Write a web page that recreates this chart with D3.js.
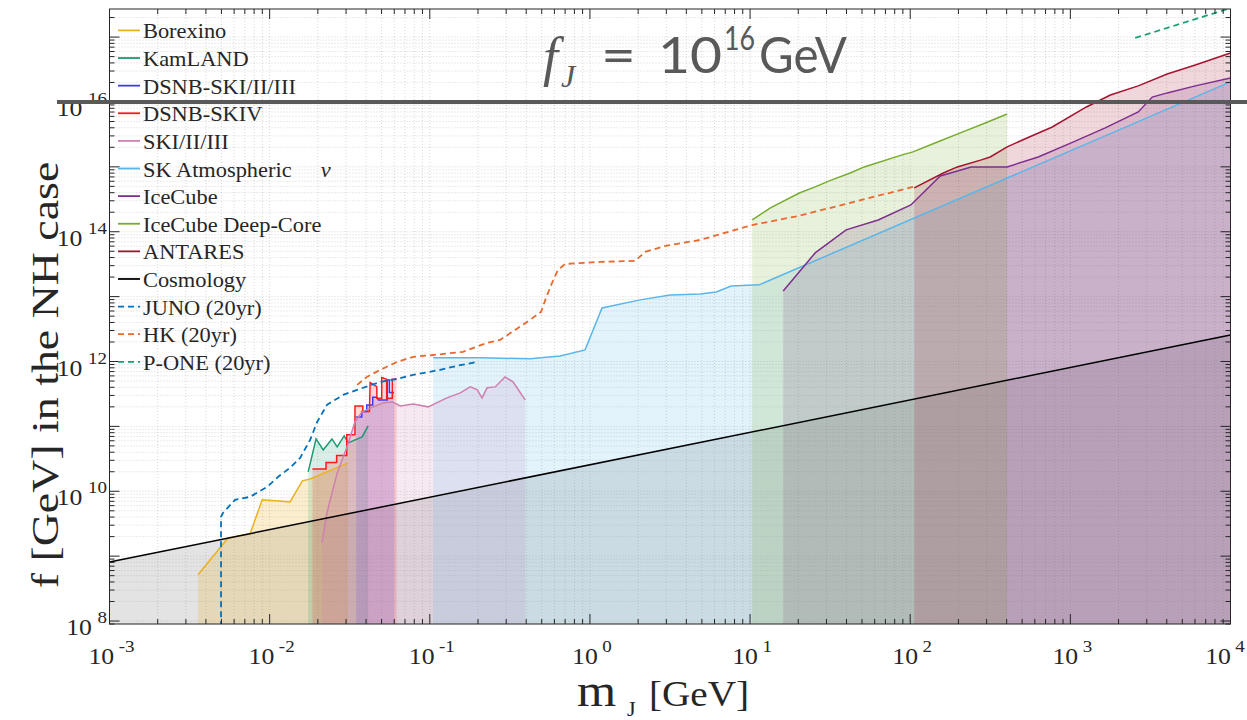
<!DOCTYPE html>
<html>
<head>
<meta charset="utf-8">
<script src="https://cdn.jsdelivr.net/npm/d3@7"></script>
<style>
  body { margin: 0; background: #fff; }
  svg text { font-family: "Liberation Serif", "Times New Roman", serif; fill: #262626; }
</style>
</head>
<body>
<div id="chart"></div>
<script>
// axis limits (GeV)
var xDomain = [1e-3, 1e4];
var yDomain = [9.0e7, 2.71e17];
var fJ = 1e16;

// curves, [m_J (GeV), f (GeV)]
var borexino = [[3.57e-3,5.15e8],[5.5e-3,1.91e9],[7.55e-3,2.21e9],[8.98e-3,7.37e9],[1.34e-2,6.87e9],[1.60e-2,1.45e10],[1.79e-2,1.55e10],[3.09e-2,2.74e10]];
var kamland = [[1.74e-2,1.99e10],[1.95e-2,6.41e10],[2.16e-2,4.34e10],[2.45e-2,6.41e10],[2.64e-2,4.83e10],[2.92e-2,7.14e10],[3.09e-2,5.57e10],[3.78e-2,6.89e10],[4.12e-2,1.02e11]];
var dsnbSK123 = [[3.47e-2,1.39e11],[3.76e-2,1.39e11],[3.76e-2,1.69e11],[4.04e-2,1.69e11],[4.04e-2,2.14e11],[4.4e-2,2.14e11],[4.4e-2,2.82e11],[4.67e-2,2.82e11],[4.78e-2,2.56e11],[5.43e-2,2.56e11],[5.43e-2,5.21e11],[5.6e-2,5.21e11],[5.6e-2,3.32e11],[5.98e-2,3.32e11]];
var dsnbSK4 = [[1.85e-2,2.21e10],[2.25e-2,2.21e10],[2.25e-2,2.77e10],[2.62e-2,2.77e10],[2.62e-2,3.55e10],[3.03e-2,3.55e10],[3.03e-2,7.4e10],[3.41e-2,7.4e10],[3.41e-2,2.07e11],[3.82e-2,2.07e11],[3.82e-2,1.69e11],[4.2e-2,1.69e11],[4.24e-2,4.73e11],[4.67e-2,4.1e11],[4.67e-2,2.72e11],[5.01e-2,2.72e11],[5.01e-2,5.65e11],[5.38e-2,5.34e11],[5.38e-2,2.72e11],[5.83e-2,2.72e11],[5.83e-2,5.34e11],[6.21e-2,5.34e11]];
var skI = [[2.12e-2,1.6e9],[2.28e-2,4.66e9],[2.64e-2,1.92e10],[3.04e-2,4.83e10],[3.41e-2,1.17e11],[3.78e-2,1.67e11],[4.43e-2,2.0e11],[5.11e-2,2.3e11],[5.82e-2,2.39e11],[6.53e-2,2.07e11],[7.87e-2,2.22e11],[9.77e-2,2.0e11],[0.128,2.75e11],[0.155,3.29e11],[0.179,4.06e11],[0.198,3.66e11],[0.212,2.75e11],[0.228,3.93e11],[0.256,4.06e11],[0.295,5.79e11],[0.331,4.85e11],[0.394,2.56e11]];
var skAtm = [[0.105,1.14e12],[0.206,1.14e12],[0.423,1.10e12],[0.651,1.22e12],[0.933,1.51e12],[1.19,6.70e12],[2.06,8.91e12],[3.17,1.06e13],[4.88,1.10e13],[6.14,1.18e13],[7.62,1.46e13],[11.4,1.52e13],[1e4,2.04e16]];
var iceCube = [[16.1,1.22e13],[25.5,4.72e13],[39.8,1.07e14],[63.1,1.52e14],[101,2.59e14],[154,7.24e14],[240,9.98e14],[403,9.98e14],[630,1.42e15],[1012,2.34e15],[1651,3.98e15],[2655,7.02e15],[3245,1.19e16],[4025,1.38e16],[6025,1.77e16],[1e4,2.34e16]];
var deepCore = [[10.3,1.52e14],[13.4,2.33e14],[20.3,3.96e14],[25.5,4.91e14],[31.2,6.07e14],[42.2,8.05e14],[51.6,9.98e14],[89.1,1.53e15],[104,1.7e15],[148,2.42e15],[221,3.58e15],[294,4.75e15],[403,6.53e15]];
var antares = [[106,4.73e14],[161,8.05e14],[197,9.98e14],[278,1.28e15],[316,1.42e15],[403,2.03e15],[554,2.89e15],[771,4.12e15],[1259,8.38e15],[1778,1.28e16],[2655,1.77e16],[4025,2.7e16],[6025,3.72e16],[1e4,5.69e16]];
var cosmology = [[1e-3,8.1e8],[1e4,2.56e12]];
var juno = [[4.97e-3,8.0e7],[4.97e-3,4.04e9],[5.12e-3,4.66e9],[6.08e-3,7.38e9],[7.55e-3,8.2e9],[9.64e-3,1.17e10],[1.13e-2,1.67e10],[1.34e-2,2.3e10],[1.55e-2,3.27e10],[1.79e-2,6.19e10],[1.98e-2,1.17e11],[2.28e-2,2.15e11],[2.88e-2,3.06e11],[3.52e-2,3.66e11],[4.9e-2,4.85e11],[6.25e-2,5.4e11],[7.87e-2,6.22e11],[0.116,7.43e11],[0.148,8.57e11],[0.198,9.86e11]];
var hk = [[3.52e-2,4.37e11],[4.05e-2,5.79e11],[4.9e-2,7.43e11],[6.25e-2,9.86e11],[7.87e-2,1.18e12],[0.105,1.26e12],[0.161,1.41e12],[0.228,1.94e12],[0.275,2.15e12],[0.341,3.07e12],[0.423,4.38e12],[0.495,5.82e12],[0.532,9.55e12],[0.58,1.63e13],[0.632,2.58e13],[0.70,3.19e13],[1.16,3.43e13],[1.92,3.55e13],[2.21,4.89e13],[2.95,6.05e13],[4.88,7.48e13],[10.3,1.27e14],[20.0,1.75e14],[39.8,2.69e14],[104,4.91e14]];
var pOne = [[2540,9.69e16],[1e4,2.8e17]];

var series = [
  {name: "Borexino", data: borexino, color: "#EDB120", fill: true},
  {name: "KamLAND", data: kamland, color: "#1a9a73", fill: true},
  {name: "DSNB-SKI/II/III", data: dsnbSK123, color: "#3b3bf5", fill: true},
  {name: "DSNB-SKIV", data: dsnbSK4, color: "#ff1a1a", fill: true},
  {name: "SKI/II/III", data: skI, color: "#cf7fb0", fill: true},
  {name: "SK Atmospheric", nu: true, data: skAtm, color: "#5bb5e8", fill: true},
  {name: "IceCube", data: iceCube, color: "#7E2F8E", fill: true},
  {name: "IceCube Deep-Core", data: deepCore, color: "#77AC30", fill: true},
  {name: "ANTARES", data: antares, color: "#A2142F", fill: true},
  {name: "Cosmology", data: cosmology, color: "#000000", fill: true, fillColor: "#808080"},
  {name: "JUNO (20yr)", data: juno, color: "#0072BD", dash: true},
  {name: "HK (20yr)", data: hk, color: "#e76a2e", dash: true},
  {name: "P-ONE (20yr)", data: pOne, color: "#1a9e77", dash: true}
];

var W = 1247, H = 720;
var pL = 109.5, pR = 1230.5, pT = 9, pB = 624;
var S = 1.12; // the original text is wider than Liberation Serif

var svg = d3.select("#chart").append("svg")
  .attr("width", W).attr("height", H);

var x = d3.scaleLog().domain(xDomain).range([pL, pR]);
var y = d3.scaleLog().domain(yDomain).range([pB, pT]);

svg.append("clipPath").attr("id", "plot")
  .append("rect").attr("x", pL).attr("y", pT)
  .attr("width", pR - pL).attr("height", pB - pT);

function isMajor(v) {
  var l = Math.log10(v);
  return Math.abs(l - Math.round(l)) < 1e-9;
}
var xt = x.ticks(), yt = y.ticks();

// grid
var grid = svg.append("g").attr("stroke", "#262626").attr("stroke-opacity", 0.18)
  .attr("stroke-dasharray", "1,2").attr("stroke-width", 1);
grid.selectAll(".gx").data(xt).enter().append("line")
  .attr("x1", d => x(d)).attr("x2", d => x(d)).attr("y1", pT).attr("y2", pB);
grid.selectAll(".gy").data(yt).enter().append("line")
  .attr("y1", d => y(d)).attr("y2", d => y(d)).attr("x1", pL).attr("x2", pR);

var plot = svg.append("g").attr("clip-path", "url(#plot)");

var area = d3.area().x(d => x(d[0])).y0(pB).y1(d => y(d[1]));
var line = d3.line().x(d => x(d[0])).y(d => y(d[1]));

// shaded regions under each bound
var order = [9, 0, 1, 3, 2, 4, 5, 6, 7, 8];
order.forEach(function(i) {
  var s = series[i];
  plot.append("path").datum(s.data)
    .attr("d", area)
    .attr("fill", s.fillColor || s.color)
    .attr("fill-opacity", i == 9 ? 0.22 : (i == 0 ? 0.22 : 0.17))
    .attr("stroke", "none");
});

// curves
series.forEach(function(s) {
  plot.append("path").datum(s.data)
    .attr("d", line)
    .attr("fill", "none")
    .attr("stroke", s.color)
    .attr("stroke-width", s.dash ? 1.8 : 1.5)
    .attr("stroke-dasharray", s.dash ? "6,4" : null);
});

// axes box and ticks (inward, all four sides)
var ax = svg.append("g").attr("stroke", "#262626").attr("stroke-width", 1);
ax.append("rect").attr("x", pL).attr("y", pT)
  .attr("width", pR - pL).attr("height", pB - pT).attr("fill", "none");
xt.forEach(function(v) {
  var L = isMajor(v) ? 10 : 5;
  ax.append("line").attr("x1", x(v)).attr("x2", x(v)).attr("y1", pB).attr("y2", pB - L);
  ax.append("line").attr("x1", x(v)).attr("x2", x(v)).attr("y1", pT).attr("y2", pT + L);
});
yt.forEach(function(v) {
  var L = isMajor(v) ? 10 : 5;
  ax.append("line").attr("y1", y(v)).attr("y2", y(v)).attr("x1", pL).attr("x2", pL + L);
  ax.append("line").attr("y1", y(v)).attr("y2", y(v)).attr("x1", pR).attr("x2", pR - L);
});

// tick labels
xt.filter(isMajor).forEach(function(v) {
  var e = Math.round(Math.log10(v));
  var cx = Math.min(x(v) + 2, W - 22);
  var t = svg.append("text")
    .attr("transform", "translate(" + cx + ",664) scale(" + S + ",1)")
    .attr("text-anchor", "middle").style("font-size", "23px");
  t.append("tspan").text("10");
  t.append("tspan").attr("dx", 4).attr("dy", -12).style("font-size", "17px").text(e);
});
yt.filter(function(v) { return isMajor(v) && Math.round(Math.log10(v)) % 2 == 0; }).forEach(function(v) {
  var e = Math.round(Math.log10(v));
  var t = svg.append("text")
    .attr("transform", "translate(107," + (y(v) + 14) + ") scale(" + S + ",1)")
    .attr("text-anchor", "end").style("font-size", "23px");
  t.append("tspan").text("10");
  t.append("tspan").attr("dx", 5).attr("dy", -12).style("font-size", "17px").text(e);
});

// axis titles
svg.append("text").attr("transform", "translate(577,706) scale(1.2,1.08)")
  .style("font-size", "42px").text("m");
svg.append("text").attr("transform", "translate(627,716) scale(" + S + ",1)")
  .style("font-size", "20px").text("J");
svg.append("text").attr("transform", "translate(649,706) scale(" + S + ",1)")
  .style("font-size", "35px").text("[GeV]");

svg.append("text")
  .attr("transform", "translate(58,375) rotate(-90) scale(1.24,1)")
  .attr("text-anchor", "middle").style("font-size", "37px")
  .text("f [GeV] in the NH case");

// f_J reference line and label
svg.append("line")
  .attr("x1", 57).attr("x2", W).attr("y1", y(fJ)).attr("y2", y(fJ))
  .attr("stroke", "#595959").attr("stroke-width", 4);

var title = svg.append("g");
title.append("text").attr("x", 543).attr("y", 75)
  .style("font-style", "italic").style("font-size", "54px").style("fill", "#595959").text("f");
title.append("text").attr("x", 561).attr("y", 87)
  .style("font-style", "italic").style("font-size", "32px").style("fill", "#595959").text("J");
title.append("text").attr("x", 601).attr("y", 73).attr("textLength", 35).attr("lengthAdjust", "spacingAndGlyphs")
  .style("font-family", "Lato").style("font-size", "50px").style("fill", "#595959").text("=");
title.append("text").attr("x", 658).attr("y", 73).attr("textLength", 64).attr("lengthAdjust", "spacingAndGlyphs")
  .style("font-family", "Lato").style("font-size", "50px").style("fill", "#595959").text("10");
title.append("text").attr("x", 724).attr("y", 50).attr("textLength", 31).attr("lengthAdjust", "spacingAndGlyphs")
  .style("font-family", "Lato").style("font-size", "32px").style("fill", "#595959").text("16");
title.append("text").attr("x", 759).attr("y", 73).attr("textLength", 88).attr("lengthAdjust", "spacingAndGlyphs")
  .style("font-family", "Lato").style("font-size", "50px").style("fill", "#595959").text("GeV");

// legend
var lg = svg.append("g");
series.forEach(function(s, i) {
  var ly = 30.4 + 27.62 * i;
  lg.append("line").attr("x1", 118).attr("x2", 140).attr("y1", ly).attr("y2", ly)
    .attr("stroke", s.color).attr("stroke-width", 1.8)
    .attr("stroke-dasharray", s.dash ? "6,4" : null);
  var t = lg.append("text")
    .attr("transform", "translate(143," + (ly + 8) + ") scale(" + S + ",1)")
    .style("font-size", "20px").text(s.name);
  if (s.nu) t.append("tspan").attr("dx", 26).style("font-style", "italic").text("\u03bd");
});
</script>
</body>
</html>
